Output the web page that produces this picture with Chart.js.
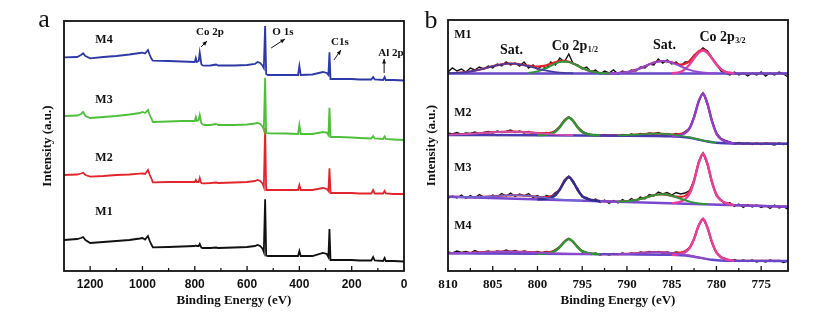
<!DOCTYPE html>
<html>
<head>
<meta charset="utf-8">
<script src="https://cdn.jsdelivr.net/npm/chart.js@4.4.0/dist/chart.umd.min.js"></script>
<style>
  html, body { margin: 0; padding: 0; background: #fff; }
  #wrap { position: relative; width: 830px; height: 316px; }
  canvas { position: absolute; top: 0; }
  #survey { left: 0; }
  #core { left: 415px; }
</style>
</head>
<body>
<div id="wrap">
  <canvas id="survey" width="415" height="316"></canvas>
  <canvas id="core" width="415" height="316"></canvas>
</div>
<script>
// ---- panel a: survey spectra (binding energy, eV / intensity, a.u.) ----
const surveyEnergy = [
  1300, 1250, 1235, 1227, 1218, 1200, 1150, 1100, 1050, 1010,
  1000, 990, 979, 972, 965, 960, 900, 850, 800, 796,
  792, 785, 781, 778, 775, 770, 761, 740, 719, 710,
  650, 600, 570, 560, 550, 540, 536, 531, 527, 520,
  450, 405, 400, 395, 350, 310, 295, 289, 285, 281,
  250, 200, 170, 125, 118, 112, 80, 74, 70, 40, 0,
];
const surveyM4 = [
  213.7, 214, 216, 217.7, 215, 212.7, 214, 215, 216.5, 218,
  218.3, 217.5, 221, 216, 212, 210.3, 210, 209.5, 209, 213,
  209, 210, 218.3, 213, 207, 205.5, 205.3, 205.5, 206.5, 205.5,
  205.5, 206, 207, 209, 208, 205, 203, 245, 197, 196,
  196, 196, 205, 196, 196.5, 199, 198, 196, 218.7, 192,
  192, 192, 191.5, 191.5, 194, 191.5, 191, 194, 191, 191, 190.5,
];
const surveyM3 = [
  155, 155.5, 157, 159, 155, 153, 154, 155, 156.5, 158,
  159, 158, 161, 156, 152, 149, 149.5, 150, 150, 154,
  150, 151, 156, 152, 148, 146.5, 146, 146, 147, 146,
  146, 146.5, 147.5, 148, 147, 144, 141, 193.3, 138, 137.7,
  137.5, 137, 146, 137, 137, 139, 138.5, 136, 163.3, 134,
  134, 133.5, 133, 132.5, 135, 132.5, 132, 134.5, 132, 131.5, 131,
];
const surveyM2 = [
  96, 96.5, 97.5, 98.3, 96, 94.3, 95, 96, 96.5, 97.3,
  97.5, 97, 101, 96, 92, 88.7, 89, 89, 89, 91,
  89, 89, 93, 90, 88, 87.7, 87.7, 88, 88.5, 88,
  88.5, 89, 90, 91, 90, 87, 84, 143, 81, 81,
  81, 81, 86, 81, 81, 83, 82, 80, 102.7, 78,
  78, 78, 77.5, 77.5, 81, 77.5, 77.5, 80, 77.5, 77, 77,
];
const surveyM1 = [
  31, 32, 33, 34, 31, 28, 29, 30, 31, 32.5,
  33, 31.5, 35, 30, 26, 23.7, 24, 24.5, 25, 25.5,
  25, 25, 27, 25, 23.5, 23, 23, 23, 23.5, 23,
  23.5, 24, 25, 26, 25, 22, 19, 71.7, 15.5, 15,
  15, 15, 20, 15, 15, 18, 17, 14, 42, 11,
  11, 11, 10.5, 10.5, 14, 10.5, 10, 13, 10, 10, 9.5,
];

// ---- panel b: Co 2p core level ----
const coreEnergy = [
  810, 809.5, 809, 808.5, 808, 807.5, 807, 806.5, 806, 805.5,
  805, 804.5, 804, 803.5, 803, 802.5, 802, 801.5, 801, 800.5,
  800, 799.5, 799, 798.5, 798, 797.5, 797, 796.5, 796, 795.5,
  795, 794.5, 794, 793.5, 793, 792.5, 792, 791.5, 791, 790.5,
  790, 789.5, 789, 788.5, 788, 787.5, 787, 786.5, 786, 785.5,
  785, 784.5, 784, 783.5, 783, 782.5, 782, 781.5, 781, 780.5,
  780, 779.5, 779, 778.5, 778, 777.5, 777, 776.5, 776, 775.5,
  775, 774.5, 774, 773.5, 773, 772.5, 772,
];

const m1Raw = [
  199, 203, 200, 202, 199, 203, 201, 204, 202, 205,
  203, 207, 205, 209, 206, 208, 205, 209, 203, 206,
  202, 205, 203, 209, 206, 213, 209, 217, 207, 206,
  202, 204, 199, 201, 197, 200, 198, 201, 197, 200,
  198, 201, 200, 204, 203, 207, 206, 212, 208, 211,
  207, 209, 205, 209, 209, 216, 219, 223, 220, 213,
  207, 200, 198, 196, 199, 196, 198, 195, 198, 196,
  199, 195, 198, 196, 199, 197, 194,
];
const m1Fit = [
  197.7, 197.8, 198.1, 198.4, 198.9, 199.5, 200.3, 201.3, 202.4, 203.6,
  204.8, 205.9, 206.7, 207.3, 207.5, 207.3, 206.7, 206.1, 205.3, 204.7,
  204.5, 204.8, 205.8, 207.2, 208.8, 209.8, 210.1, 209.2, 207.6, 205.2,
  203, 201, 199.6, 198.6, 198, 197.7, 197.6, 197.7, 197.9, 198.3,
  198.9, 199.8, 201.1, 202.8, 204.7, 206.7, 208.4, 209.6, 210, 209.6,
  208.6, 207.2, 206.4, 207.2, 210.2, 215, 219.6, 221.3, 218.6, 212.9,
  206.7, 201.9, 199.2, 198.1, 197.6, 197.5, 197.5, 197.5, 197.5, 197.5,
  197.5, 197.5, 197.5, 197.5, 197.5, 197.5, 197.5,
];
const m1Base = [[810, 197.5], [772, 197.5]];
const m1Sat1 = [[810, 197.7], [809, 198.1], [808, 198.9], [807, 200.3], [806, 202.4], [805, 204.8], [804, 206.7], [803, 207.5], [802, 206.7], [801, 204.8], [800, 202.4], [799, 200.3], [798, 198.9], [797, 198.1], [796, 197.7]];
const m1P12 = [[801, 198], [800, 199.6], [799, 203], [798.5, 205.2], [798, 207.4], [797.5, 208.9], [797, 209.5], [796.5, 208.9], [796, 207.4], [795.5, 205.2], [795, 203], [794, 199.6], [793, 198], [792, 197.5]];
const m1Sat2 = [[792, 197.6], [791, 197.9], [790, 198.9], [789, 201.1], [788, 204.7], [787, 208.4], [786.5, 209.6], [786, 210], [785.5, 209.6], [785, 208.4], [784, 204.7], [783, 201.1], [782, 198.9], [781, 197.9], [780, 197.6]];
const m1P32 = [[785, 197.6], [784, 199.2], [783.5, 201.9], [783, 206.6], [782.5, 212.7], [782, 218.2], [781.5, 220.5], [781, 218.2], [780.5, 212.7], [780, 206.6], [779.5, 201.9], [779, 199.2], [778, 197.6]];

const m2Raw = [
  138, 137, 138.5, 136.5, 138, 137.5, 139, 137, 138.5, 139.5,
  138, 140, 138.5, 139.5, 141, 138.5, 140, 138, 139.5, 137.5,
  138.5, 137, 138.5, 137.5, 140.5, 144.5, 151, 154, 149.5, 144,
  140, 137.5, 136, 136.5, 135, 136.5, 135, 136, 135, 136.5,
  135.5, 137, 135.5, 137.5, 136, 138, 137, 138.5, 136.5, 137.5,
  136, 137.5, 136.5, 139.5, 142.5, 154.5, 169.5, 178, 166.5, 150.5,
  138, 132.5, 130.5, 129, 127, 128.5, 127, 128, 126.5, 128,
  126.5, 128, 127, 126, 128, 126.5, 127.5,
];
const m2Fit = [
  136.2, 136.3, 136.5, 136.6, 136.9, 137.1, 137.4, 137.7, 138.1, 138.4,
  138.7, 139, 139.2, 139.3, 139.4, 139.3, 139.1, 138.9, 138.6, 138.3,
  137.9, 137.8, 137.8, 138.4, 140, 144.3, 150.3, 153.6, 150, 143.7,
  139.2, 137.1, 136.2, 135.8, 135.6, 135.6, 135.6, 135.6, 135.6, 135.7,
  135.8, 136.1, 136.3, 136.7, 137, 137.3, 137.4, 137.4, 137.2, 136.9,
  136.5, 136.6, 137.1, 138.7, 143.1, 153.9, 169.2, 177.5, 167.1, 150,
  137.6, 132.1, 129.6, 128.3, 127.6, 127.5, 127.5, 127.4, 127.4, 127.4,
  127.3, 127.3, 127.3, 127.3, 127.2, 127.2, 127.2,
];
const m2Base = [[810, 136], [800, 135.8], [790, 135.3], [787, 135], [785, 134.6], [784, 134.1], [783, 133.2], [782.5, 132.4], [782, 131.4], [781.5, 130.4], [781, 129.5], [780.5, 128.8], [780, 128.2], [779, 127.7], [776, 127.4], [772, 127.2]];
const m2Sat1 = [[810, 136.2], [809, 136.5], [808, 136.9], [807, 137.4], [806, 138.1], [805, 138.7], [804, 139.2], [803, 139.4], [802, 139.1], [801, 138.6], [800, 137.9], [799, 137.1], [798, 136.5], [797, 136.1], [796, 135.8]];
const m2P12 = [[800, 135.8], [799.5, 136], [799, 136.4], [798.5, 137.3], [798, 139.2], [797.5, 143.7], [797, 149.8], [796.5, 153.3], [796, 149.8], [795.5, 143.6], [795, 139], [794.5, 137.1], [794, 136.2], [793.5, 135.8], [793, 135.5]];
const m2Sat2 = [[791, 135.5], [790, 135.8], [789, 136.3], [788, 137], [787, 137.4], [786.5, 137.4], [786, 137.2], [785, 136.5], [784, 135.2], [783, 133.7], [782, 131.6], [781, 129.6], [780, 128.2]];
const m2P32 = [[785, 134.6], [784.5, 135.05], [784, 136], [783.5, 137.9], [783, 142.6], [782.5, 153.6], [782, 169], [781.5, 177.4], [781, 167.1], [780.5, 150], [780, 137.6], [779.5, 132.1], [779, 129.6], [778.5, 128.3], [778, 127.6]];

const m3Raw = [
  72.5, 75, 73, 76, 72.5, 75.5, 73, 76.5, 74, 72.5,
  76, 74, 77.5, 75, 78, 74.5, 77, 75, 77.5, 73.5,
  75.5, 72.5, 75.5, 74, 78.5, 81, 91, 95, 88, 82.5,
  74, 73.5, 70, 72, 68.5, 71, 67.5, 70.5, 68, 71.5,
  69, 72.5, 70, 74, 72, 76.5, 75, 79, 77, 78.5,
  76, 78.5, 77, 78, 80.5, 90, 109, 118, 106, 88,
  75, 71.5, 66, 68.5, 64.5, 67, 63.5, 66.5, 64, 66,
  63.5, 65.5, 62.5, 66, 63, 64.5, 61.5,
];
const m3Fit = [
  74.3, 74.2, 74.1, 74, 73.97, 73.95, 73.97, 74.07, 74.22, 74.43,
  74.68, 74.97, 75.26, 75.51, 75.69, 75.76, 75.7, 75.49, 75.16, 74.72,
  74.21, 74, 74, 74.65, 76.7, 82.05, 89.75, 94.06, 89.2, 80.95,
  75, 72.33, 71.03, 70.31, 69.83, 69.7, 69.6, 69.5, 69.5, 69.6,
  69.8, 70.2, 70.9, 71.95, 73.2, 74.5, 75.7, 76.5, 76.7, 76.2,
  75.2, 74.5, 74.15, 75.15, 79.4, 91, 107.9, 117.4, 107.05, 89.2,
  76.4, 70.8, 68.14, 66.76, 65.88, 65.75, 65.62, 65.49, 65.36, 65.22,
  65.09, 64.96, 64.83, 64.7, 64.57, 64.43, 64.3,
];
const m3Base = [[810, 74.3], [772, 64.3]];
const m3Sat1 = [[809, 74.1], [808, 73.97], [807, 73.97], [806, 74.22], [805, 74.68], [804, 75.24], [803, 75.68], [802, 75.7], [801, 75.13], [800, 74.24], [799, 73.1], [798, 72.12], [797, 71.37], [796, 70.8], [795, 70.42]];
const m3P12 = [[800, 71.5], [799.5, 71.8], [799, 72.3], [798.5, 73.4], [798, 75.75], [797.5, 81.35], [797, 89.3], [796.5, 93.75], [796, 89], [795.5, 80.85], [795, 74.95], [794.5, 72.3], [794, 71], [793.5, 70.3], [793, 69.8]];
const m3Sat2 = [[791, 69.5], [790, 69.8], [789, 71], [788, 73.2], [787, 75.7], [786.5, 76.5], [786, 76.7], [785.5, 76.3], [785, 75.2], [784, 72.2], [783, 69.4], [782, 67.6], [781, 66.9]];
const m3P32 = [[785, 67.7], [784.5, 68.35], [784, 69.5], [783.5, 71.85], [783, 77.2], [782.5, 89.7], [782, 107.15], [781.5, 117], [781, 106.9], [780.5, 89.15], [780, 76.4], [779.5, 70.8], [779, 68.15], [778.5, 66.75], [778, 65.9]];

const m4Raw = [
  19, 18, 20, 18.5, 19.5, 18, 20.5, 18.5, 19, 20,
  18.5, 20, 19, 21, 19, 20.5, 18.5, 20, 19, 18.5,
  19.5, 18, 19.5, 19, 21.5, 24.5, 29.5, 32.5, 28.5, 24,
  19, 18.5, 16.5, 18, 16, 17.5, 16, 17.5, 16.5, 18,
  16.5, 18, 17, 19, 18, 19.5, 18.5, 19.5, 18, 19,
  17.5, 19, 18, 20, 23.5, 31.5, 45.5, 52.5, 43, 28,
  19, 13.5, 12.5, 10, 11.5, 9.5, 11, 9.5, 11, 9,
  10.5, 9, 11, 9.5, 10.5, 8.5, 10,
];
const m4Fit = [
  17.83, 17.87, 17.92, 18, 18.1, 18.23, 18.37, 18.54, 18.71, 18.89,
  19.05, 19.19, 19.29, 19.35, 19.35, 19.3, 19.19, 19.04, 18.85, 18.64,
  18.41, 18.41, 18.56, 19.11, 20.58, 24.17, 29.29, 32.18, 29.09, 23.77,
  19.96, 18.22, 17.44, 17.04, 16.78, 16.75, 16.78, 16.8, 16.86, 16.97,
  17.14, 17.37, 17.67, 18.01, 18.34, 18.62, 18.8, 18.84, 18.72, 18.41,
  17.99, 18.02, 18.44, 19.66, 23.44, 32.34, 45.1, 52.11, 43.36, 28.9,
  18.6, 14, 11.9, 10.85, 10.2, 10.18, 10.15, 10.12, 10.1, 10.09,
  10.08, 10.06, 10.05, 10.04, 10.03, 10.01, 10,
];
const m4Base = [[810, 17.7], [800, 17.2], [790, 16.6], [786, 16.3], [785, 16.1], [784, 15.7], [783, 15], [782.5, 14.3], [782, 13.5], [781.5, 12.7], [781, 11.9], [780.5, 11.2], [780, 10.7], [779, 10.3], [776, 10.1], [772, 10]];
const m4Sat1 = [[810, 17.83], [808, 18.1], [806, 18.71], [804, 19.29], [803, 19.35], [802, 19.19], [800, 18.41], [798, 17.58], [796, 17.09], [794, 16.86]];
const m4P12 = [[800, 17.2], [799.5, 17.4], [799, 17.74], [798.5, 18.46], [798, 20.08], [797.5, 23.8], [797, 29], [796.5, 32], [796, 28.96], [795.5, 23.7], [795, 19.9], [794.5, 18.2], [794, 17.44], [793.5, 17.04], [793, 16.8]];
const m4Sat2 = [[791, 16.86], [790, 17.14], [789, 17.67], [788, 18.34], [787, 18.8], [786, 18.72], [785, 17.99], [784, 16.84], [783, 15.54], [782, 13.7], [781, 11.96]];
const m4P32 = [[785, 16.1], [784.5, 16.5], [784, 17.3], [783.5, 18.85], [783, 22.9], [782.5, 32], [782, 44.9], [781.5, 52], [781, 43.3], [780.5, 28.9], [780, 18.6], [779.5, 14], [779, 11.9], [778.5, 10.85], [778, 10.2]];

// ---- setup ----
const SERIF = '"Liberation Serif", "Times New Roman", serif';
const SANS = '"Liberation Sans", Arial, sans-serif';
Chart.defaults.font.family = SERIF;
Chart.defaults.font.weight = "bold";
Chart.defaults.color = "#111";
Chart.defaults.animation = false;
Chart.defaults.elements.point.radius = 0;
Chart.defaults.plugins.legend.display = false;
Chart.defaults.plugins.tooltip.enabled = false;

const isMajor = (v, major) => Math.abs(v / major - Math.round(v / major)) < 1e-6;

// frame, inward ticks and text notes
const notesPlugin = {
  id: "notes",
  afterDraw(chart, args, opts) {
    const { ctx, chartArea: a, scales: { x, y } } = chart;
    ctx.save();
    ctx.strokeStyle = "#111";
    ctx.fillStyle = "#111";
    ctx.lineWidth = 1.8;
    ctx.strokeRect(a.left, a.top, a.right - a.left, a.bottom - a.top);
    ctx.lineWidth = 1.3;
    x.ticks.forEach((t) => {
      const px = x.getPixelForValue(t.value);
      if (px < a.left + 2 || px > a.right - 2) return;
      const len = isMajor(t.value, opts.major) ? 5 : 3;
      ctx.beginPath();
      ctx.moveTo(px, a.bottom);
      ctx.lineTo(px, a.bottom - len);
      ctx.stroke();
    });

    ctx.textBaseline = "middle";
    opts.labels.forEach((l) => {
      ctx.font = `bold ${l.size}px ${SERIF}`;
      ctx.textAlign = l.align || "center";
      const px = x.getPixelForValue(l.e);
      const py = y.getPixelForValue(l.v);
      ctx.fillText(l.text, px, py);
      if (l.sub) {
        const w = ctx.measureText(l.text).width;
        ctx.font = `bold ${Math.round(l.size * 0.6)}px ${SERIF}`;
        ctx.textAlign = "left";
        ctx.fillText(l.sub, px + w + 0.5, py + 4);
      }
    });

    ctx.lineWidth = 1;
    (opts.arrows || []).forEach(([e0, v0, e1, v1]) => {
      const x0 = x.getPixelForValue(e0), y0 = y.getPixelForValue(v0);
      const x1 = x.getPixelForValue(e1), y1 = y.getPixelForValue(v1);
      const ang = Math.atan2(y1 - y0, x1 - x0);
      ctx.beginPath();
      ctx.moveTo(x0, y0);
      ctx.lineTo(x1, y1);
      ctx.stroke();
      ctx.beginPath();
      ctx.moveTo(x1, y1);
      ctx.lineTo(x1 - 5 * Math.cos(ang - 0.4), y1 - 5 * Math.sin(ang - 0.4));
      ctx.lineTo(x1 - 5 * Math.cos(ang + 0.4), y1 - 5 * Math.sin(ang + 0.4));
      ctx.closePath();
      ctx.fill();
    });

    ctx.font = `normal 26px ${SERIF}`;
    ctx.textAlign = "center";
    ctx.textBaseline = "alphabetic";
    ctx.fillText(opts.letter.text, opts.letter.x, opts.letter.y);
    ctx.restore();
  },
};

function axes(o) {
  return {
    x: {
      type: "linear",
      reverse: true,
      min: o.min,
      max: o.max,
      grid: { display: false, drawTicks: false },
      border: { display: false },
      ticks: {
        stepSize: o.step,
        autoSkip: false,
        maxRotation: 0,
        padding: 6,
        font: o.tickFont,
        callback: (v) => (isMajor(v, o.major) ? String(v) : ""),
      },
      title: {
        display: true,
        text: "Binding Energy (eV)",
        font: { size: 13, weight: "bold", family: SERIF },
        padding: { top: 0, bottom: 8 },
      },
      afterFit: (s) => { s.height = 45; },
    },
    y: {
      min: 0,
      max: o.yMax,
      grid: { display: false },
      border: { display: false },
      ticks: { display: false },
      title: {
        display: true,
        text: "Intensity (a.u.)",
        font: { size: 13, weight: "bold", family: SERIF },
        padding: { top: o.titlePad, bottom: 0 },
      },
      afterFit: (s) => { s.width = o.axisWidth; },
    },
  };
}

// ---- panel a ----
const survey = (vals) => vals.map((y, i) => ({ x: surveyEnergy[i], y }));
const surveyLine = (vals, color, order) => ({
  data: survey(vals), borderColor: color, borderWidth: 1.8, tension: 0, order,
});

new Chart(document.getElementById("survey"), {
  type: "line",
  data: {
    datasets: [
      surveyLine(surveyM4, "#2d39a6", 1),
      surveyLine(surveyM3, "#4fbf3b", 2),
      surveyLine(surveyM2, "#e2262b", 3),
      surveyLine(surveyM1, "#111111", 4),
    ],
  },
  options: {
    responsive: false,
    layout: { padding: { left: 0, right: 11, top: 21, bottom: 0 } },
    scales: axes({
      min: 0, max: 1300, step: 100, major: 200, yMax: 250,
      tickFont: { size: 12, weight: "bold", family: SANS },
      titlePad: 40, axisWidth: 64,
    }),
    plugins: {
      notes: {
        major: 200,
        letter: { text: "a", x: 44, y: 27 },
        labels: [
          { text: "M4", e: 1147, v: 231, size: 12 },
          { text: "M3", e: 1147, v: 171, size: 12 },
          { text: "M2", e: 1147, v: 113, size: 12 },
          { text: "M1", e: 1147, v: 59, size: 12 },
          { text: "Co 2p", e: 742, v: 239, size: 11 },
          { text: "O 1s", e: 463, v: 239, size: 11 },
          { text: "C1s", e: 245, v: 229, size: 11 },
          { text: "Al 2p", e: 50, v: 218, size: 11 },
        ],
        arrows: [
          [776, 224, 753, 230],
          [508, 223, 455, 232],
          [268, 211, 241, 221],
          [76, 198, 76, 212],
        ],
      },
    },
  },
  plugins: [notesPlugin],
});

// ---- panel b ----
const grid = (vals) => vals.map((y, i) => ({ x: coreEnergy[i], y }));
const pairs = (arr) => arr.map(([x, y]) => ({ x, y }));
const rawLine = (vals) => ({
  data: grid(vals), borderColor: "#111111", borderWidth: 1.4, tension: 0, order: 6,
});
const fitLine = (data, color, order, width) => ({
  data, borderColor: color, borderWidth: width || 2.4,
  cubicInterpolationMode: "monotone", order,
});

const RED = "#e3222b", PINK = "#e63f9e", PURPLE = "#9549cf", GREEN = "#2f9638",
  NAVY = "#2c2e92", BASE = "#6647c9";

new Chart(document.getElementById("core"), {
  type: "line",
  data: {
    datasets: [
      rawLine(m1Raw), fitLine(grid(m1Fit), RED, 5, 2.2),
      fitLine(pairs(m1Base), BASE, 4), fitLine(pairs(m1Sat1), "#453c9f", 3, 1.7),
      fitLine(pairs(m1P12), GREEN, 3, 2), fitLine(pairs(m1Sat2), PURPLE, 3, 2),
      fitLine(pairs(m1P32), PINK, 3),

      rawLine(m2Raw), fitLine(grid(m2Fit), RED, 5, 2.2),
      fitLine(pairs(m2Base), "#4a3bb0", 4), fitLine(pairs(m2Sat1), "#d24fb0", 3, 1.7),
      fitLine(pairs(m2P12), GREEN, 3), fitLine(pairs(m2Sat2), GREEN, 3, 1.7),
      fitLine(pairs(m2P32), "#8c3ed2", 3),

      rawLine(m3Raw), fitLine(grid(m3Fit), RED, 5, 2.2),
      fitLine(pairs(m3Base), "#7a48d0", 4), fitLine(pairs(m3Sat1), "#6d6ad0", 3, 1.5),
      fitLine(pairs(m3P12), NAVY, 3), fitLine(pairs(m3Sat2), GREEN, 3, 2),
      fitLine(pairs(m3P32), PINK, 3),

      rawLine(m4Raw), fitLine(grid(m4Fit), RED, 5, 2.2),
      fitLine(pairs(m4Base), BASE, 4), fitLine(pairs(m4Sat1), PURPLE, 3, 1.7),
      fitLine(pairs(m4P12), GREEN, 3), fitLine(pairs(m4Sat2), PURPLE, 3, 1.7),
      fitLine(pairs(m4P32), PINK, 3),
    ],
  },
  options: {
    responsive: false,
    layout: { padding: { left: 0, right: 42, top: 20, bottom: 0 } },
    scales: axes({
      min: 772, max: 810, step: 2.5, major: 5, yMax: 251,
      tickFont: { size: 13, weight: "bold", family: SERIF },
      titlePad: 9, axisWidth: 33,
    }),
    plugins: {
      notes: {
        major: 5,
        letter: { text: "b", x: 16, y: 28 },
        labels: [
          { text: "M1", e: 809.3, v: 236, size: 12, align: "left" },
          { text: "M2", e: 809.3, v: 158, size: 12, align: "left" },
          { text: "M3", e: 809.3, v: 103, size: 12, align: "left" },
          { text: "M4", e: 809.3, v: 45, size: 12, align: "left" },
          { text: "Sat.", e: 802.9, v: 221, size: 14 },
          { text: "Co 2p", sub: "1/2", e: 798.4, v: 225, size: 14, align: "left" },
          { text: "Sat.", e: 785.8, v: 226, size: 14 },
          { text: "Co 2p", sub: "3/2", e: 781.9, v: 234, size: 14, align: "left" },
        ],
      },
    },
  },
  plugins: [notesPlugin],
});
</script>
</body>
</html>
